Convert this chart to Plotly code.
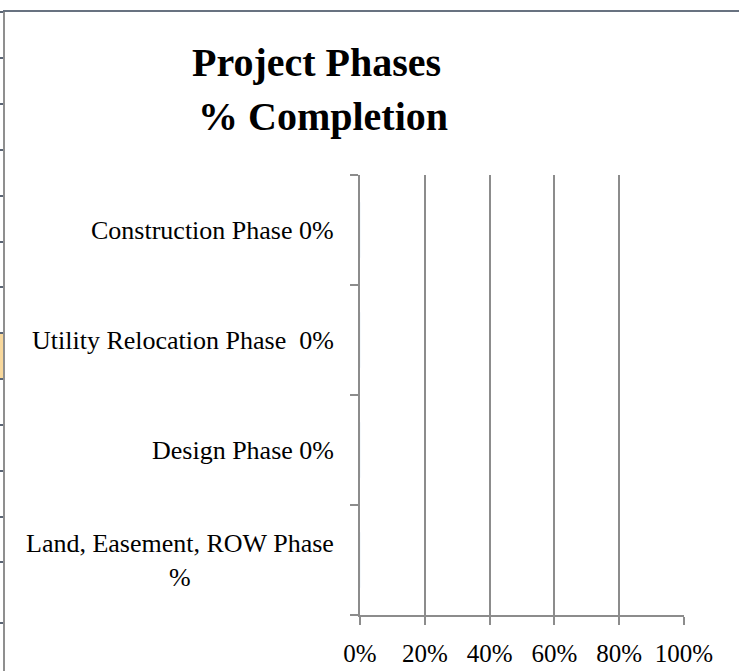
import plotly.graph_objects as go

# ---- data ----
categories = [
    "Land, Easement, ROW Phase<br>%",
    "Design Phase 0%",
    "Utility Relocation Phase\u00a0 0%",
    "Construction Phase 0%",
]
completion = [0, 0, 0, 0]
x_tickvals = [0, 0.2, 0.4, 0.6, 0.8, 1.0]
x_ticktext = ["0%", "20%", "40%", "60%", "80%", "100%"]
title_lines = ["Project Phases", "% Completion"]

W, H = 739, 671
L, R, T, B = 360, 55, 175, 56
PW, PH = W - L - R, H - T - B

def px(xp):
    return (xp - L) / PW

def py(yp):
    return (H - B - yp) / PH

fig = go.Figure()
fig.add_trace(go.Bar(
    y=categories, x=completion, orientation="h",
    marker_color="#4f81bd", showlegend=False, hoverinfo="skip",
))

grid = "#8c8c8c"
font = "Liberation Serif, Times New Roman, serif"

shapes = []
# spreadsheet frame decorations (left row header strip and top border)
shapes.append(dict(type="rect", xref="paper", yref="paper",
                   x0=px(0), x1=px(3), y0=py(378), y1=py(334),
                   fillcolor="#f8d89c", line_width=0, layer="below"))
shapes.append(dict(type="line", xref="paper", yref="paper",
                   x0=px(4), x1=px(4), y0=py(11), y1=py(671),
                   line=dict(color="#8f8f8f", width=2)))
shapes.append(dict(type="line", xref="paper", yref="paper",
                   x0=px(3), x1=px(739), y0=py(11), y1=py(11),
                   line=dict(color="#687280", width=2)))
for yy in [12, 58, 104, 150, 196, 242, 287, 333, 379, 425, 471, 517, 562, 623]:
    shapes.append(dict(type="line", xref="paper", yref="paper",
                       x0=px(0), x1=px(3), y0=py(yy), y1=py(yy),
                       line=dict(color="#5b6574", width=2)))

annotations = [
    dict(text="<b>" + title_lines[0] + "</b>", xref="paper", yref="paper",
         x=px(316), y=py(62), xanchor="center", yanchor="middle",
         showarrow=False, font=dict(family=font, size=40, color="black")),
    dict(text="<b>" + title_lines[1] + "</b>", xref="paper", yref="paper",
         x=px(323), y=py(116), xanchor="center", yanchor="middle",
         showarrow=False, font=dict(family=font, size=40, color="black")),
]
# category labels, placed on the category axis, lines centred like the original
for cat in categories:
    annotations.append(dict(
        text=cat, xref="paper", yref="y", x=px(336), y=cat,
        xanchor="right", yanchor="middle", align="center",
        showarrow=False, font=dict(family=font, size=26, color="black"),
    ))

fig.update_layout(
    width=W, height=H,
    margin=dict(l=L, r=R, t=T, b=B, pad=0, autoexpand=False),
    paper_bgcolor="white", plot_bgcolor="white",
    font=dict(family=font, color="black", size=25),
    bargap=0.5,
    shapes=shapes,
    annotations=annotations,
)
fig.update_xaxes(
    range=[0, 1], tickvals=x_tickvals, ticktext=x_ticktext,
    showgrid=True, gridcolor=grid, gridwidth=1.5,
    showline=True, linecolor=grid, linewidth=1.5,
    ticks="outside", ticklen=8, tickcolor=grid, tickwidth=1.5,
    ticklabelstandoff=7, zeroline=False, automargin=False,
    tickfont=dict(family=font, size=25, color="black"),
)
fig.update_yaxes(
    type="category", categoryorder="array", categoryarray=categories,
    showgrid=False, automargin=False, showticklabels=False,
    showline=True, linecolor=grid, linewidth=1.5,
    ticks="outside", ticklen=8, tickcolor=grid, tickwidth=1.5,
    tickson="boundaries",
)

fig.write_html("out.html", config={"displayModeBar": False},
               post_script="document.body.style.margin='0px';")
